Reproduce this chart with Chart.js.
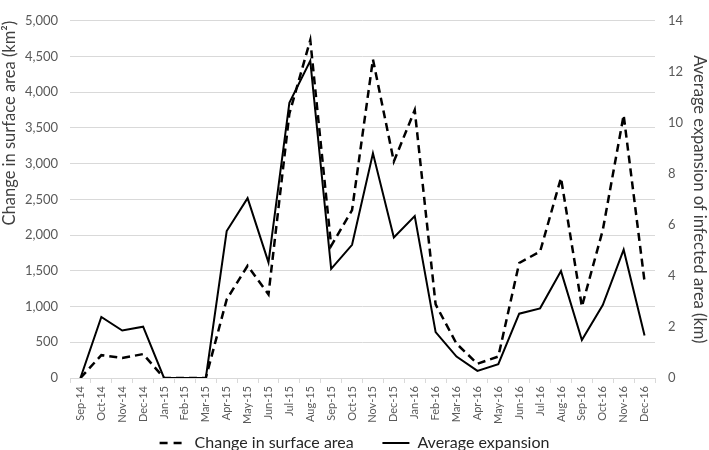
<!DOCTYPE html>
<html>
<head>
<meta charset="utf-8">
<script src="https://cdn.jsdelivr.net/npm/chart.js@4.4.1/dist/chart.umd.min.js"></script>
<style>
  body { margin: 0; background: #fff; }
</style>
</head>
<body>
<canvas id="chart" width="709" height="450"></canvas>
<script>
const months = ['Sep-14', 'Oct-14', 'Nov-14', 'Dec-14', 'Jan-15', 'Feb-15', 'Mar-15', 'Apr-15',
  'May-15', 'Jun-15', 'Jul-15', 'Aug-15', 'Sep-15', 'Oct-15', 'Nov-15', 'Dec-15', 'Jan-16',
  'Feb-16', 'Mar-16', 'Apr-16', 'May-16', 'Jun-16', 'Jul-16', 'Aug-16', 'Sep-16', 'Oct-16',
  'Nov-16', 'Dec-16'];

// km², left axis
const surfaceChange = [0, 320, 280, 335, 0, 0, 0, 1100, 1570, 1170, 3700, 4730, 1850, 2350,
  4460, 3030, 3750, 1030, 480, 200, 300, 1610, 1770, 2800, 1000, 2070, 3680, 1350];

// km, right axis
const avgExpansion = [0, 2.39, 1.86, 2.01, 0, 0, 0, 5.76, 7.05, 4.53, 10.79, 12.43, 4.28, 5.22,
  8.81, 5.51, 6.35, 1.8, 0.84, 0.28, 0.54, 2.52, 2.73, 4.19, 1.49, 2.86, 5.03, 1.67];

const leftTicks = [0, 500, 1000, 1500, 2000, 2500, 3000, 3500, 4000, 4500, 5000];
const rightTicks = [0, 2, 4, 6, 8, 10, 12, 14];

const FONT = 'Lato, "Noto Sans", sans-serif';
const gridGray = '#d9d9d9';
const tickGray = '#595959';

Chart.defaults.font.family = FONT;
Chart.defaults.color = tickGray;

const ctx = document.getElementById('chart').getContext('2d');
new Chart(ctx, {
  type: 'line',
  data: {
    labels: months,
    datasets: [
      {
        label: 'Change in surface area',
        data: surfaceChange,
        yAxisID: 'y',
        borderColor: '#000',
        backgroundColor: 'transparent',
        borderWidth: 2.5,
        borderDash: [8, 5],
        pointRadius: 0,
        tension: 0
      },
      {
        label: 'Average expansion',
        data: avgExpansion,
        yAxisID: 'y1',
        borderColor: '#000',
        backgroundColor: 'transparent',
        borderWidth: 2,
        pointRadius: 0,
        tension: 0
      }
    ]
  },
  options: {
    responsive: false,
    animation: false,
    layout: { padding: { top: 4, left: 0, right: 0, bottom: -11 } },
    plugins: {
      legend: {
        position: 'bottom',
        labels: {
          usePointStyle: true,
          pointStyle: 'line',
          pointStyleWidth: 27,
          padding: 0,
          color: '#262626',
          font: { size: 16, family: FONT },
          // point style legend loses the line dash, so set it back here;
          // no horizontal padding between items, so put the gap after the first label
          generateLabels: chart => {
            const items = Chart.defaults.plugins.legend.labels.generateLabels(chart);
            items[0].text += '       ';
            items[0].lineDash = [8, 6];
            items[0].lineWidth = 2.5;
            items[1].lineWidth = 2;
            return items;
          }
        }
      },
      tooltip: { enabled: false }
    },
    scales: {
      x: {
        offset: true,
        grid: {
          offset: true,
          drawOnChartArea: false,
          drawTicks: true,
          tickLength: 5,
          color: gridGray
        },
        border: { display: true, color: gridGray },
        ticks: {
          minRotation: 90,
          maxRotation: 90,
          autoSkip: false,
          padding: 3,
          color: tickGray,
          font: { size: 11 }
        },
        afterFit: scale => { scale.height = 57; }
      },
      y: {
        position: 'left',
        min: 0,
        max: 5000,
        afterBuildTicks: scale => { scale.ticks = leftTicks.map(v => ({ value: v })); },
        grid: { color: gridGray, drawTicks: false },
        border: { display: false },
        ticks: {
          padding: 12,
          color: tickGray,
          font: { size: 13 },
          callback: v => v.toLocaleString('en-US')
        },
        title: {
          display: true,
          text: 'Change in surface area (km²)',
          align: 'end',
          color: '#404040',
          padding: 0,
          font: { size: 16.5 }
        },
        afterFit: scale => { scale.width = 70; }
      },
      y1: {
        position: 'right',
        min: 0,
        max: 14,
        afterBuildTicks: scale => { scale.ticks = rightTicks.map(v => ({ value: v })); },
        grid: { drawOnChartArea: false, drawTicks: false },
        border: { display: false },
        ticks: {
          padding: 13,
          color: tickGray,
          font: { size: 13 }
        },
        title: {
          display: true,
          text: 'Average expansion of infected area (km)',
          color: '#404040',
          padding: 0,
          font: { size: 16.5 }
        },
        afterFit: scale => { scale.width = 54; }
      }
    }
  }
});
</script>
</body>
</html>
